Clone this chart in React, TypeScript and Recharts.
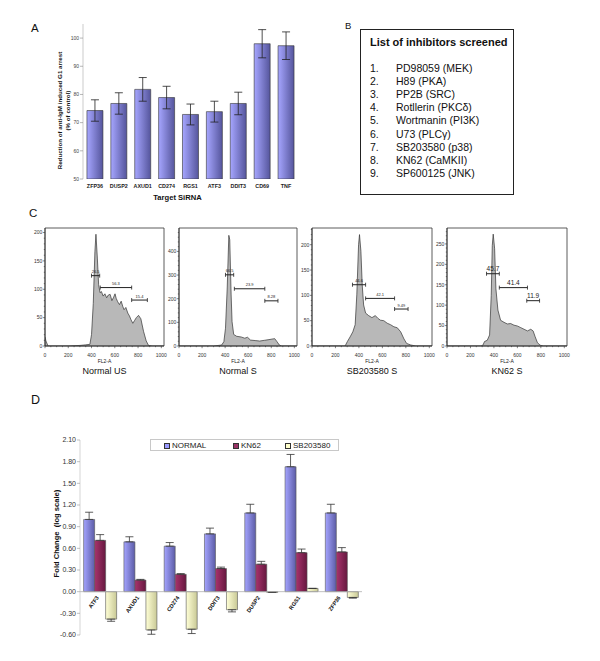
import React from 'react';
import {
  BarChart,
  Bar,
  XAxis,
  YAxis,
  ErrorBar,
  AreaChart,
  Area,
  ReferenceLine,
  ReferenceArea,
  ComposedChart,
  Line,
  LabelList,
  Legend,
} from 'recharts';

const FONT = '"Liberation Sans", Arial, Helvetica, sans-serif';

// ---------- Panel A: siRNA knockdown ----------
const sirnaTargets = ['ZFP36', 'DUSP2', 'AXUD1', 'CD274', 'RGS1', 'ATF3', 'DDIT3', 'CD69', 'TNF'];
const g1Reduction = [74.3, 76.8, 81.8, 78.9, 72.9, 73.9, 76.8, 98.0, 97.3];
const g1Error = [3.8, 3.8, 4.2, 4.0, 3.7, 3.7, 4.0, 5.0, 4.9];
const g1Ticks = [50, 60, 70, 80, 90, 100];

// ---------- Panel B: inhibitors ----------
const inhibitors = [
  'PD98059 (MEK)',
  'H89 (PKA)',
  'PP2B (SRC)',
  'Rotllerin (PKC\u03b4)',
  'Wortmanin (PI3K)',
  'U73 (PLC\u03b3)',
  'SB203580 (p38)',
  'KN62 (CaMKII)',
  'SP600125 (JNK)',
];

// ---------- Panel C: DNA content histograms (FL2-A) ----------
const usChannels = [0, 8, 26, 60, 200, 300, 350, 386, 400, 415, 429, 438, 450, 461, 473, 485, 500, 515, 530, 545, 560, 575, 590, 602, 612, 625, 640, 655, 668, 680, 695, 712, 726, 740, 755, 770, 785, 804, 824, 847, 870, 890, 920, 1023];
const usCounts = [16, 9, 0, 0, 0, 1, 2, 3, 20, 75, 166, 197, 155, 108, 94, 96, 88, 92, 85, 90, 91, 80, 86, 92, 84, 78, 73, 79, 70, 64, 68, 58, 53, 46, 40, 45, 50, 54, 48, 26, 9, 1, 0, 0];
const usGates = [
  { from: 400, to: 470, level: 124, label: '26.5' },
  { from: 475, to: 745, level: 103, label: '56.3' },
  { from: 745, to: 880, level: 81, label: '15.4' },
];

const nsChannels = [0, 300, 369, 389, 403, 418, 432, 440, 452, 460, 474, 500, 540, 570, 594, 620, 660, 700, 740, 780, 815, 830, 850, 870, 890, 1023];
const nsCounts = [0, 0, 4, 18, 75, 245, 468, 449, 216, 103, 49, 41, 38, 33, 37, 25, 23, 21, 24, 27, 30, 31, 18, 4, 0, 0];
const nsGates = [
  { from: 403, to: 474, level: 301, label: '66.5' },
  { from: 480, to: 744, level: 242, label: '23.9' },
  { from: 744, to: 858, level: 191, label: '8.28' },
];

const sbChannels = [0, 282, 302, 325, 348, 368, 382, 397, 405, 417, 428, 440, 457, 483, 511, 540, 560, 583, 612, 641, 670, 698, 727, 756, 784, 807, 842, 885, 1023];
const sbCounts = [0, 0, 9, 18, 28, 42, 101, 200, 220, 187, 121, 81, 65, 60, 56, 60, 55, 51, 50, 45, 42, 38, 36, 28, 14, 5, 2, 0, 0];
const sbGates = [
  { from: 345, to: 457, level: 121, label: '44.6' },
  { from: 457, to: 704, level: 94, label: '42.1' },
  { from: 704, to: 819, level: 73, label: '9.49' },
];

const knChannels = [0, 290, 306, 320, 343, 363, 377, 386, 394, 406, 417, 434, 457, 486, 514, 543, 571, 600, 629, 657, 686, 714, 734, 751, 771, 794, 820, 1023];
const knCounts = [0, 0, 2, 11, 14, 27, 124, 246, 274, 238, 140, 88, 63, 58, 54, 55, 51, 49, 45, 41, 37, 41, 37, 23, 8, 2, 0, 0];
const knGates = [
  { from: 337, to: 446, level: 177, label: '45.7' },
  { from: 446, to: 686, level: 143, label: '41.4' },
  { from: 680, to: 789, level: 111, label: '11.9' },
];

// ---------- Panel D: fold change ----------
const genes = ['ATF3', 'AXUD1', 'CD274', 'DDIT3', 'DUSP2', 'RGS1', 'ZFP36'];
const normalFold = [1.0, 0.69, 0.63, 0.8, 1.09, 1.73, 1.09];
const normalErr = [0.1, 0.07, 0.05, 0.08, 0.12, 0.17, 0.12];
const kn62Fold = [0.71, 0.16, 0.24, 0.32, 0.38, 0.54, 0.55];
const kn62Err = [0.08, 0.01, 0.01, 0.02, 0.04, 0.05, 0.06];
const sbFold = [-0.38, -0.53, -0.52, -0.25, -0.01, 0.045, -0.08];
const sbErr = [0.03, 0.06, 0.06, 0.03, 0.0, 0.0, 0.01];
const foldTicks = [-0.6, -0.3, 0, 0.3, 0.6, 0.9, 1.2, 1.5, 1.8, 2.1];

const dSeries = [
  { key: 'normal', name: 'NORMAL', color: '#9999ff', grad: 'gradN' },
  { key: 'kn62', name: 'KN62', color: '#993366', grad: 'gradK' },
  { key: 'sb', name: 'SB203580', color: '#ffffcc', grad: 'gradS' },
];
const legendLeft = [13, 82, 134];

const range = (from: number, to: number, step: number) => {
  const out: number[] = [];
  for (let v = from; v <= to + 1e-9; v += step) out.push(Math.round(v * 100) / 100);
  return out;
};
const histXTicks = range(0, 1000, 50);

// one-sided error bars (outward from zero), as in the original
const outward = (v: number, e: number) => (v >= 0 ? [0, e] : [e, 0]);

const aData = sirnaTargets.map((name, i) => ({ name, value: g1Reduction[i], err: g1Error[i] }));
const dData = genes.map((name, i) => ({
  name,
  normal: normalFold[i],
  normalErr: outward(normalFold[i], normalErr[i]),
  kn62: kn62Fold[i],
  kn62Err: outward(kn62Fold[i], kn62Err[i]),
  sb: sbFold[i],
  sbErr: outward(sbFold[i], sbErr[i]),
  zero: 0,
}));

// ---------- small render helpers ----------
const G1Label = (p: any) => {
  const vb = p.viewBox ?? { x: 0, y: 24, width: 83, height: 155 };
  const cy = vb.y + vb.height / 2 + 9;
  const x1 = vb.x + 59;
  const x2 = vb.x + 67;
  return (
    <g fontSize={6.2} fontWeight="bold" fill="#111" textAnchor="middle">
      <text x={x1} y={cy} transform={`rotate(-90 ${x1} ${cy})`} dominantBaseline="central">
        Reduction of anti-IgM induced G1 arrest
      </text>
      <text x={x2} y={cy} transform={`rotate(-90 ${x2} ${cy})`} dominantBaseline="central">
        (% of control)
      </text>
    </g>
  );
};

const FoldLabel = (p: any) => {
  const vb = p.viewBox ?? { x: 0, y: 20, width: 80, height: 195 };
  const cx = vb.x + 56;
  const cy = vb.y + vb.height / 2 - 4;
  return (
    <text
      x={cx}
      y={cy}
      transform={`rotate(-90 ${cx} ${cy})`}
      textAnchor="middle"
      dominantBaseline="central"
      fontSize={7.6}
      fontWeight="bold"
      fill="#111"
    >
      {'Fold Change\u00a0 (log scale)'}
    </text>
  );
};

const FlLabel = (p: any) => {
  const vb = p.viewBox ?? { x: 30, y: 124, width: 119, height: 22 };
  return (
    <text x={vb.x + vb.width / 2} y={vb.y + 16.5} textAnchor="middle" fontSize={5} fill="#222">
      FL2-A
    </text>
  );
};

const AxisTick = (p: any) => {
  const { x, y, payload, side, major } = p;
  const v = payload.value;
  const isMajor = Math.abs(v % major) < 1e-6;
  const len = isMajor ? 2.2 : 1.2;
  if (side === 'left') {
    return (
      <g>
        <line x1={x - len} x2={x} y1={y} y2={y} stroke="#333" strokeWidth={0.6} />
        {isMajor && (
          <text x={x - 2.6} y={y + 1.8} textAnchor="end" fontSize={5} fill="#333">
            {v}
          </text>
        )}
      </g>
    );
  }
  return (
    <g>
      <line x1={x} x2={x} y1={y} y2={y + len} stroke="#333" strokeWidth={0.6} />
      {isMajor && (
        <text x={x} y={y + 10.5} textAnchor="middle" fontSize={5} fill="#333">
          {v}
        </text>
      )}
    </g>
  );
};

const GateMark = (p: any) => {
  const { x1, y1, x2, y2, text, fontSize } = p;
  return (
    <g>
      <line x1={x1} y1={y1} x2={x2} y2={y2} stroke="#222" strokeWidth={1} />
      <line x1={x1} y1={y1 - 2} x2={x1} y2={y1 + 2} stroke="#222" strokeWidth={0.8} />
      <line x1={x2} y1={y2 - 2} x2={x2} y2={y2 + 2} stroke="#222" strokeWidth={0.8} />
      <text x={(x1 + x2) / 2} y={y1 - 2.5} textAnchor="middle" fontSize={fontSize} fill="#222">
        {text}
      </text>
    </g>
  );
};

const GeneLabel = (p: any) => {
  const px = p.x ?? p.viewBox?.x ?? 0;
  const py = p.y ?? p.viewBox?.y ?? 0;
  const ax = px - 1;
  const ay = py + 6;
  return (
    <text
      x={ax}
      y={ay}
      transform={`rotate(-55 ${ax} ${ay})`}
      textAnchor="end"
      fontSize={5.6}
      fontWeight="bold"
      fill="#111"
    >
      {p.value}
    </text>
  );
};

const FoldLegend = () => (
  <div
    style={{
      position: 'relative',
      width: 189,
      height: 12,
      border: '1px solid #c8c8c8',
      boxSizing: 'border-box',
      background: '#fff',
      fontFamily: FONT,
    }}
  >
    {dSeries.map((s, i) => (
      <div
        key={s.key}
        style={{
          position: 'absolute',
          left: legendLeft[i],
          top: 1,
          display: 'flex',
          alignItems: 'center',
          fontSize: 8,
          lineHeight: '9px',
          color: '#222',
        }}
      >
        <span
          style={{
            display: 'inline-block',
            width: 4,
            height: 4,
            background: s.color,
            border: '0.8px solid #333',
            marginRight: 2,
          }}
        />
        {s.name}
      </div>
    ))}
  </div>
);

interface Gate {
  from: number;
  to: number;
  level: number;
  label: string;
}

interface HistProps {
  left: number;
  boxWidth: number;
  channels: number[];
  counts: number[];
  yMax: number;
  yTicks: number[];
  yMajor: number;
  gates: Gate[];
  gateFont: number;
  caption: string;
}

function Histogram({ left, boxWidth, channels, counts, yMax, yTicks, yMajor, gates, gateFont, caption }: HistProps) {
  const data = channels.map((ch, i) => ({ ch, count: counts[i] }));
  return (
    <>
      <div style={{ position: 'absolute', left: left - 30, top: 222 }}>
        <AreaChart
          width={30 + boxWidth + 8}
          height={146}
          data={data}
          margin={{ top: 6, right: 8, bottom: 0, left: 0 }}
        >
          <XAxis
            type="number"
            dataKey="ch"
            domain={[0, 1023]}
            ticks={histXTicks}
            interval={0}
            height={22}
            tickLine={false}
            tickSize={0}
            tickMargin={0}
            axisLine={{ stroke: '#333', strokeWidth: 0.8 }}
            tick={<AxisTick side="bottom" major={200} />}
            label={<FlLabel />}
            allowDataOverflow
          />
          <YAxis
            type="number"
            domain={[0, yMax]}
            ticks={yTicks}
            interval={0}
            width={30}
            tickLine={false}
            tickSize={0}
            tickMargin={0}
            axisLine={{ stroke: '#333', strokeWidth: 0.8 }}
            tick={<AxisTick side="left" major={yMajor} />}
            allowDataOverflow
          />
          <Area
            type="linear"
            dataKey="count"
            stroke="#333"
            strokeWidth={0.7}
            fill="#b8b8b8"
            fillOpacity={1}
            isAnimationActive={false}
          />
          <ReferenceArea x1={0} x2={1023} y1={0} y2={yMax} fill="none" fillOpacity={0} stroke="#333" strokeWidth={0.8} />
          {gates.map((g, i) => (
            <ReferenceLine
              key={i}
              segment={[
                { x: g.from, y: g.level },
                { x: g.to, y: g.level },
              ]}
              shape={(sp: any) => <GateMark {...sp} text={g.label} fontSize={gateFont} />}
            />
          ))}
        </AreaChart>
      </div>
      <div
        style={{
          position: 'absolute',
          left,
          width: boxWidth,
          top: 366,
          textAlign: 'center',
          fontSize: 9,
          lineHeight: '11px',
          color: '#111',
        }}
      >
        {caption}
      </div>
    </>
  );
}

const panelLabel = (text: string, left: number, top: number, size: number) => (
  <div style={{ position: 'absolute', left, top, fontSize: size, lineHeight: `${size}px`, color: '#111' }}>{text}</div>
);

export default function App() {
  return (
    <div
      style={{
        position: 'absolute',
        left: 0,
        top: 0,
        width: 600,
        height: 661,
        background: '#fff',
        fontFamily: FONT,
        overflow: 'hidden',
      }}
    >
      {/* A */}
      {panelLabel('A', 31, 23, 11.5)}
      <div style={{ position: 'absolute', left: 0, top: 0 }}>
        <BarChart
          width={305}
          height={205}
          data={aData}
          margin={{ top: 24, right: 7, bottom: 0, left: 0 }}
          barCategoryGap="16.5%"
        >
          <defs>
            <linearGradient id="gradA" x1="0" y1="0" x2="1" y2="0">
              <stop offset="0" stopColor="#a6a6ff" />
              <stop offset="1" stopColor="#55559c" />
            </linearGradient>
          </defs>
          <XAxis
            dataKey="name"
            height={26}
            interval={0}
            tickLine={false}
            axisLine={false}
            tickSize={0}
            tickMargin={5}
            tick={{ fontSize: 5.4, fontWeight: 'bold', fill: '#222' }}
            label={{ value: 'Target SiRNA', position: 'insideBottom', offset: 5, dx: -13, fontSize: 7.6, fontWeight: 'bold', fill: '#111' }}
          />
          <YAxis
            type="number"
            domain={[50, 105]}
            ticks={g1Ticks}
            interval={0}
            width={83}
            tickSize={3}
            tickMargin={1}
            tickLine={{ stroke: '#888', strokeWidth: 0.6 }}
            axisLine={{ stroke: '#aaa', strokeWidth: 0.6 }}
            tick={{ fontSize: 5, fill: '#444' }}
            label={G1Label}
            allowDataOverflow
          />
          <Bar dataKey="value" fill="url(#gradA)" stroke="#333" strokeWidth={0.6} isAnimationActive={false}>
            <ErrorBar dataKey="err" width={4} stroke="#222" strokeWidth={0.8} />
          </Bar>
        </BarChart>
      </div>

      {/* B */}
      {panelLabel('B', 345, 21, 9.5)}
      <div
        style={{
          position: 'absolute',
          left: 360,
          top: 29,
          width: 154,
          height: 166,
          border: '1.2px solid #222',
          boxSizing: 'border-box',
          color: '#111',
        }}
      >
        <div style={{ position: 'absolute', left: 9, top: 6, fontSize: 11, fontWeight: 'bold', whiteSpace: 'nowrap' }}>
          List of inhibitors screened
        </div>
        {inhibitors.map((t, i) => (
          <React.Fragment key={t}>
            <div style={{ position: 'absolute', left: 9, top: 32 + i * 13.1, fontSize: 10.5, lineHeight: '12px' }}>
              {i + 1}.
            </div>
            <div
              style={{ position: 'absolute', left: 35, top: 32 + i * 13.1, fontSize: 10.5, lineHeight: '12px', whiteSpace: 'nowrap' }}
            >
              {t}
            </div>
          </React.Fragment>
        ))}
      </div>

      {/* C */}
      {panelLabel('C', 29, 208, 11.5)}
      <Histogram
        left={45}
        boxWidth={119}
        channels={usChannels}
        counts={usCounts}
        yMax={208}
        yTicks={range(0, 200, 10)}
        yMajor={50}
        gates={usGates}
        gateFont={4}
        caption="Normal US"
      />
      <Histogram
        left={179}
        boxWidth={118}
        channels={nsChannels}
        counts={nsCounts}
        yMax={499}
        yTicks={range(0, 480, 20)}
        yMajor={100}
        gates={nsGates}
        gateFont={4}
        caption="Normal S"
      />
      <Histogram
        left={312}
        boxWidth={120}
        channels={sbChannels}
        counts={sbCounts}
        yMax={233}
        yTicks={range(0, 230, 10)}
        yMajor={50}
        gates={sbGates}
        gateFont={4}
        caption="SB203580 S"
      />
      <Histogram
        left={447}
        boxWidth={120}
        channels={knChannels}
        counts={knCounts}
        yMax={289}
        yTicks={range(0, 280, 10)}
        yMajor={50}
        gates={knGates}
        gateFont={6.5}
        caption="KN62 S"
      />

      {/* D */}
      {panelLabel('D', 31, 394, 12.5)}
      <div style={{ position: 'absolute', left: 0, top: 420 }}>
        <ComposedChart
          width={380}
          height={230}
          data={dData}
          margin={{ top: 20, right: 18, bottom: 15, left: 0 }}
          barCategoryGap="9%"
          barGap={0}
        >
          <defs>
            <linearGradient id="gradN" x1="0" y1="0" x2="1" y2="0">
              <stop offset="0" stopColor="#a4a4ff" />
              <stop offset="1" stopColor="#5c5ca6" />
            </linearGradient>
            <linearGradient id="gradK" x1="0" y1="0" x2="1" y2="0">
              <stop offset="0" stopColor="#a8336c" />
              <stop offset="1" stopColor="#66183f" />
            </linearGradient>
            <linearGradient id="gradS" x1="0" y1="0" x2="1" y2="0">
              <stop offset="0" stopColor="#ffffd6" />
              <stop offset="1" stopColor="#c9c996" />
            </linearGradient>
          </defs>
          <XAxis dataKey="name" hide />
          <YAxis
            type="number"
            domain={[-0.6, 2.1]}
            ticks={foldTicks}
            interval={0}
            width={80}
            tickSize={3}
            tickMargin={1}
            tickFormatter={(v: number) => v.toFixed(2)}
            tickLine={{ stroke: '#999', strokeWidth: 0.6 }}
            axisLine={{ stroke: '#bbb', strokeWidth: 0.6 }}
            tick={{ fontSize: 7, fill: '#333' }}
            label={FoldLabel}
            allowDataOverflow
          />
          {dSeries.map((s) => (
            <Bar
              key={s.key}
              dataKey={s.key}
              name={s.name}
              fill={`url(#${s.grad})`}
              stroke="#555"
              strokeWidth={0.6}
              isAnimationActive={false}
            >
              <ErrorBar dataKey={`${s.key}Err`} width={4} stroke="#333" strokeWidth={0.8} />
            </Bar>
          ))}
          <ReferenceLine y={0} stroke="#b0b0b0" strokeWidth={0.8} />
          <Line
            dataKey="zero"
            stroke="none"
            dot={false}
            activeDot={false}
            legendType="none"
            isAnimationActive={false}
          >
            <LabelList dataKey="name" content={GeneLabel} />
          </Line>
          <Legend
            layout="horizontal"
            verticalAlign="middle"
            align="center"
            content={() => <FoldLegend />}
            wrapperStyle={{ left: 150, top: 19, width: 189, height: 12 }}
          />
        </ComposedChart>
      </div>
    </div>
  );
}
